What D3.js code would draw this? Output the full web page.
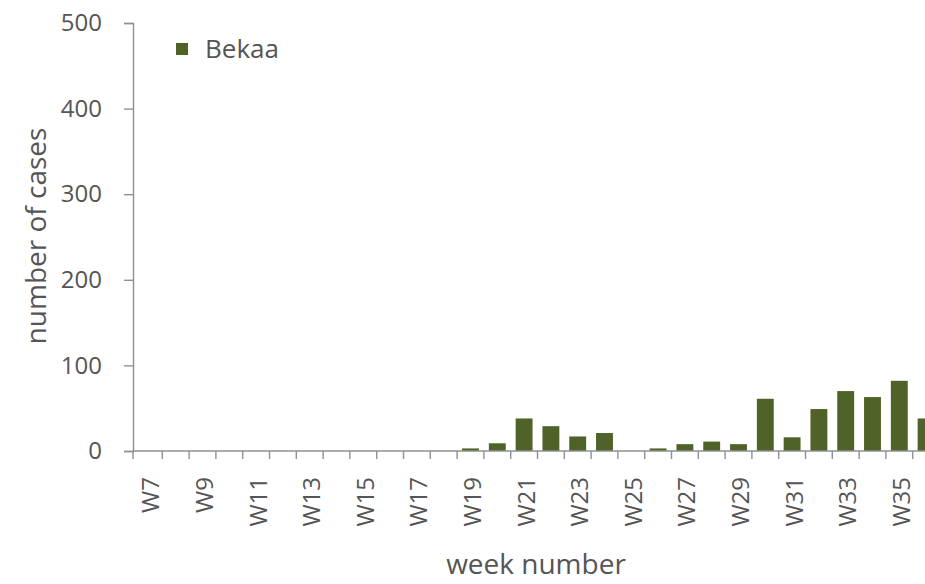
<!DOCTYPE html>
<html><head><meta charset="utf-8">
<script src="https://cdn.jsdelivr.net/npm/d3@7"></script>
<style>
html,body{margin:0;padding:0;background:#fff;overflow:hidden}
svg{display:block}
text{font-family:"Open Sans","Noto Sans",sans-serif;fill:#555}
</style></head>
<body>
<svg id="chart" width="925" height="584"></svg>
<script>
const weeks = ["W7","W8","W9","W10","W11","W12","W13","W14","W15","W16","W17","W18","W19","W20","W21","W22","W23","W24","W25","W26","W27","W28","W29","W30","W31","W32","W33","W34","W35","W36"];
const bekaa = [0,0,0,0,0,0,0,0,0,0,0,0,3,9,38,29,17,21,0,3,8,11,8,61,16,49,70,63,82,38];
const weekLabels = ["W7","W9","W11","W13","W15","W17","W19","W21","W23","W25","W27","W29","W31","W33","W35"];
const yTicks = [0,100,200,300,400,500];
const seriesName = "Bekaa";
const barColor = "#4f6228";
const axisColor = "#909090";

const svg = d3.select("#chart");
const axisX = 133, bandStart = 135.5, plotRight = 939.5, plotTop = 23, plotBottom = 451;

const x = d3.scaleBand().domain(weeks).range([bandStart, plotRight]).paddingInner(0.37).paddingOuter(0.185);
const xb = d3.scaleBand().domain(weeks).range([bandStart, plotRight]);
const y = d3.scaleLinear().domain([0,500]).range([plotBottom, plotTop]);

// bars
svg.append("g").selectAll("rect").data(weeks).join("rect")
  .attr("x", d => x(d))
  .attr("width", x.bandwidth())
  .attr("y", (d,i) => y(bekaa[i]))
  .attr("height", (d,i) => y(0) - y(bekaa[i]))
  .attr("fill", barColor);

// y axis
const yAxis = d3.axisLeft(y).tickValues(yTicks).tickSize(9).tickPadding(22);
const gy = svg.append("g").attr("transform", `translate(${axisX},0)`).call(yAxis);
gy.select(".domain").attr("stroke", axisColor).attr("stroke-width",1.4);
gy.selectAll(".tick line").attr("stroke", axisColor).attr("stroke-width",1.4);
gy.selectAll(".tick text").style("font-size","24px").attr("fill","#555");

// x axis line
svg.append("line").attr("x1", axisX).attr("x2", plotRight).attr("y1", y(0)).attr("y2", y(0))
  .attr("stroke", axisColor).attr("stroke-width",1.4);
// x tick marks at band boundaries
const bounds = weeks.slice(1).map(d => xb(d)).concat([axisX]);
svg.append("g").selectAll("line").data(bounds).join("line")
  .attr("x1", d => d).attr("x2", d => d)
  .attr("y1", y(0)).attr("y2", y(0)+8)
  .attr("stroke", axisColor).attr("stroke-width",1.4);

// x labels
svg.append("g").selectAll("text").data(weekLabels).join("text")
  .attr("transform", d => `translate(${xb(d)+xb.bandwidth()/2+2},${y(0)+26}) rotate(-90)`)
  .attr("text-anchor","end").attr("dy","0.35em")
  .style("font-size","24px")
  .text(d => d);

// axis titles
svg.append("text").attr("x", 536).attr("y", 574).attr("text-anchor","middle")
  .style("font-size","28px").text("week number");
svg.append("text").attr("transform", "translate(46,236) rotate(-90)").attr("text-anchor","middle")
  .style("font-size","28px").text("number of cases");

// legend
const lg = svg.append("g").attr("transform","translate(176,43)");
lg.append("rect").attr("width",12).attr("height",12).attr("fill",barColor);
lg.append("text").attr("x",29).attr("y",6).attr("dy","0.36em").style("font-size","26px").text(seriesName);
</script>
</body></html>
